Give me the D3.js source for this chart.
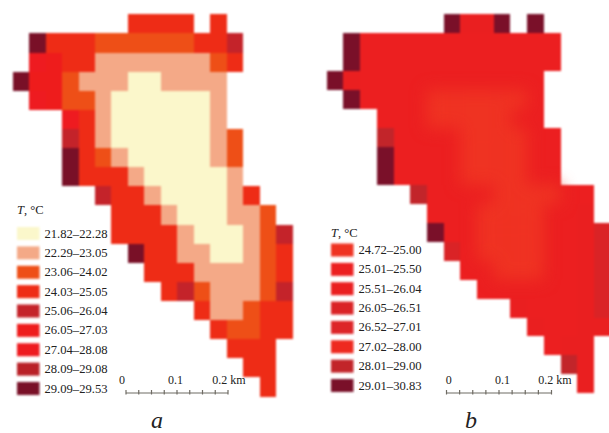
<!DOCTYPE html>
<html>
<head>
<meta charset="utf-8">
<script src="https://cdn.jsdelivr.net/npm/d3@7/dist/d3.min.js"></script>
<style>
  html, body { margin: 0; padding: 0; background: #fff; }
  svg { display: block; }
  text { font-family: "Liberation Serif", serif; fill: #222; }
</style>
</head>
<body>
<svg id="chart" width="609" height="433"></svg>
<script>
// class labels
var labelsA = ["21.82–22.28","22.29–23.05","23.06–24.02","24.03–25.05","25.06–26.04","26.05–27.03","27.04–28.08","28.09–29.08","29.09–29.53"];
var labelsB = ["24.72–25.00","25.01–25.50","25.51–26.04","26.05–26.51","26.52–27.01","27.02–28.00","28.01–29.00","29.01–30.83"];
// upper class limits
var limitsA = [22.29,23.06,24.03,25.06,26.05,27.04,28.09,29.09];
var limitsB = [25.01,25.51,26.05,26.52,27.02,28.01,29.01];
var coloursA = ["#fbf7cb","#f4a987","#ee4f17","#ee2c16","#c4232a","#ee1c1c","#ee1b20","#b92127","#791027"];
var coloursB = ["#ef3322","#ec1f20","#ea1f20","#da2326","#dd2528","#ee2a20","#c2252a","#7a1029"];

// first column of each row
var startA = [7,1,1,0,1,3,3,3,3,5,6,6,7,8,9,11,12,13,14,15];
var startB = [7,1,1,0,1,3,3,3,3,5,6,6,7,8,9,11,12,13,14,15];

// temperature per cell read from the map, one row per line, null = no data
var cellsA = [
  [24.5,24.5,24.5,24.5,null,24.5],
  [29.3,24.6,24.5,24.5,23.5,23.5,23.5,23.5,23.5,23.5,24.5,24.5,25.5],
  [27.5,27,24.5,24.5,22.7,22.7,22.7,22.7,22.7,22.7,22.7,23.5,24.5],
  [29.3,26.5,27,23.5,22.7,22.7,22.7,22,22,22.7,22.7,22.7,22.7],
  [27.5,27,23.5,23.7,22.7,22,22,22,22,22,22,22.7],
  [27.5,24.5,22.7,22,22,22,22,22,22,22.7],
  [25.5,24.5,22.7,22,22,22,22,22,22,22.7,23.5],
  [29.3,24.5,23.8,22.7,22,22,22,22,22,22.7,23.5],
  [29.3,24.8,24.5,24.4,22.7,22,22,22,22,22,22.7],
  [25.5,24.5,24.5,22.7,22,22,22,22,22.7,24.5],
  [24.5,24.5,24.5,22.7,22,22,22,22.7,22.7,23.8],
  [24.5,24.5,24.5,24.5,22.7,22,22,22,22.7,23.8,25.5],
  [29.3,24.5,24.5,22.7,22.7,22,22,22.7,23.8,24.5],
  [24.5,24.5,24.4,22.7,22.7,22.7,22.7,23.8,24.5],
  [24.5,25.5,23.5,22.7,22.7,22.7,23.8,25.5],
  [24.5,22.7,22.7,23.8,24.5,24.5],
  [24.5,23.8,23.8,24.5,24.5],
  [24.5,24.5,24.5],
  [24.5,24.5],
  [24.5]
];
var cellsB = [
  [29.5,25.7,25.7,29.5,null,29.5],
  [29.5,25.3,25.3,25.3,25.3,25.3,25.3,25.3,25.3,25.3,25.3,25.3,25.3],
  [29.5,25.3,25.3,25.3,25.3,25.3,25.3,25.3,25.3,25.3,25.3,25.3,25.3],
  [29.5,25.7,25.3,25.3,25.3,25.3,25.3,25.3,25.3,25.3,25.3,25.3,25.3],
  [29.5,25.3,25.3,25.3,25.3,24.9,24.9,24.9,24.9,24.9,24.9,25.3],
  [25.3,25.3,25.3,24.9,24.9,24.9,24.9,24.9,25.3,25.3],
  [28.5,25.3,25.3,25.3,25.3,24.9,24.9,24.9,24.9,25.3,25.3],
  [29.5,25.3,25.3,25.3,25.3,24.9,24.9,24.9,24.9,25.3,25.3],
  [29.5,25.3,25.3,25.3,25.3,24.9,24.9,24.9,24.9,25.3,25.3],
  [28.5,25.3,25.3,25.3,25.3,24.9,24.9,24.9,24.9,25.3,25.3],
  [25.3,25.3,25.3,24.9,24.9,24.9,24.9,25.3,25.3,25.7],
  [29.5,25.3,25.3,24.9,24.9,24.9,24.9,25.3,25.3,25.7,26.3],
  [26.3,25.3,24.9,24.9,24.9,24.9,25.3,25.3,25.7,26.3],
  [25.3,25.3,24.9,24.9,24.9,25.3,25.3,25.7,26.3],
  [25.3,25.3,25.3,25.3,25.3,25.3,25.7,26.3],
  [25.7,25.3,25.3,25.3,25.7,26.3],
  [25.7,25.3,25.3,25.7,25.7],
  [25.3,25.7,25.7],
  [28.5,25.7],
  [25.7]
];

var scaleTicks = [0,0.025,0.05,0.075,0.1,0.125,0.15,0.175,0.2];

var svg = d3.select("#chart");
var defs = svg.append("defs");
defs.append("filter").attr("id","soft").attr("x","-5%").attr("y","-5%").attr("width","110%").attr("height","110%")
  .attr("color-interpolation-filters","sRGB")
  .append("feGaussianBlur").attr("stdDeviation",0.9);
defs.append("filter").attr("id","softbar").attr("x","-5%").attr("y","-50%").attr("width","110%").attr("height","200%")
  .attr("color-interpolation-filters","sRGB")
  .append("feGaussianBlur").attr("stdDeviation",0.5);
defs.append("filter").attr("id","glow").attr("x","-20%").attr("y","-20%").attr("width","140%").attr("height","140%")
  .attr("color-interpolation-filters","sRGB")
  .append("feGaussianBlur").attr("stdDeviation",8);

function drawPanel(opt)
{
    var x = d3.scaleBand().domain(d3.range(17)).range(opt.xRange);
    var y = d3.scaleBand().domain(d3.range(20)).range([14.3, opt.bottom]);
    var colour = d3.scaleThreshold().domain(opt.limits).range(opt.colours);

    var flat = [];
    opt.cells.forEach(function(row,r){
        row.forEach(function(v,i){
            if (v!=null){ flat.push({r:r, c:opt.start[r]+i, v:v}); }
        });
    });

    var floor = opt.glowBelow||0;
    svg.append("g").attr("filter","url(#soft)")
      .selectAll("rect").data(flat).join("rect")
      .attr("shape-rendering","crispEdges")
      .attr("x",function(d){return x(d.c);})
      .attr("y",function(d){return y(d.r);})
      .attr("width",x.bandwidth())
      .attr("height",y.bandwidth())
      .attr("fill",function(d){return colour(Math.max(d.v,floor));});

    // the coolest class in b fades into its neighbours
    if (floor>0)
    {
        svg.append("g").attr("filter","url(#glow)")
          .selectAll("rect").data(flat.filter(function(d){return d.v<floor;})).join("rect")
          .attr("x",function(d){return x(d.c);})
          .attr("y",function(d){return y(d.r);})
          .attr("width",x.bandwidth())
          .attr("height",y.bandwidth())
          .attr("fill",function(d){return colour(d.v);});
    }

    // legend
    var leg = svg.append("g");
    leg.append("text").attr("x",opt.legX).attr("y",opt.legTitleY)
      .style("font-size","12.5px")
      .html('<tspan font-style="italic">T</tspan>, °C');

    var ly = d3.scalePoint().domain(d3.range(opt.labels.length)).range(opt.legRange);
    leg.append("g").attr("filter","url(#soft)")
      .selectAll("rect").data(opt.labels).join("rect")
      .attr("x",opt.legX).attr("width",22.5)
      .attr("y",function(d,i){return ly(i)-6.5;}).attr("height",13)
      .attr("fill",function(d,i){return opt.colours[i];});
    leg.selectAll("text.lab").data(opt.labels).join("text").attr("class","lab")
      .attr("x",opt.legX+27.5)
      .attr("y",function(d,i){return ly(i)+4;})
      .style("font-size","12.6px")
      .text(function(d){return d;});

    // scale bar
    var sx = d3.scaleLinear().domain([0,0.2]).range(opt.scaleRange);
    var bar = svg.append("g").attr("transform","translate(0,"+opt.scaleY+")");
    var axis = bar.append("g").attr("filter","url(#softbar)");
    axis.call(d3.axisTop(sx).tickValues(scaleTicks).tickSize(2.5).tickSizeOuter(0).tickFormat(""));
    axis.selectAll("path,line").attr("stroke","#6f6c64").attr("stroke-width",1.2);
    axis.selectAll("line").attr("y1",2).attr("y2",-2.5);
    var marks = [[0,"0",opt.kmShift[0]],[0.1,"0.1",opt.kmShift[1]],[0.2,"0.2 km",opt.kmShift[2]]];
    bar.selectAll("text.km").data(marks).join("text").attr("class","km")
      .attr("x",function(d){return sx(d[0])+d[2];})
      .attr("y",-8.5)
      .attr("text-anchor","middle")
      .style("font-size","12px")
      .text(function(d){return d[1];});

    svg.append("text").attr("x",opt.capX).attr("y",427.5)
      .attr("text-anchor","middle")
      .style("font-size","24px").style("font-style","italic")
      .text(opt.cap);
}

drawPanel({xRange:[12.7,292.5], bottom:396.5, start:startA, cells:cellsA, limits:limitsA, colours:coloursA,
  labels:labelsA, legX:17, legTitleY:214, legRange:[233.5,388.5], scaleRange:[125.5,227.5], scaleY:392.5, kmShift:[-3.5,-1,1.5], capX:157, cap:"a"});
drawPanel({xRange:[326.7,610.6], bottom:393.3, start:startB, cells:cellsB, limits:limitsB, colours:coloursB,
  labels:labelsB, legX:331, legTitleY:237, legRange:[250,385.5], scaleRange:[446,551], scaleY:392.5, kmShift:[2.7,4,4], capX:471, cap:"b", glowBelow:25.01});
</script>
</body>
</html>
